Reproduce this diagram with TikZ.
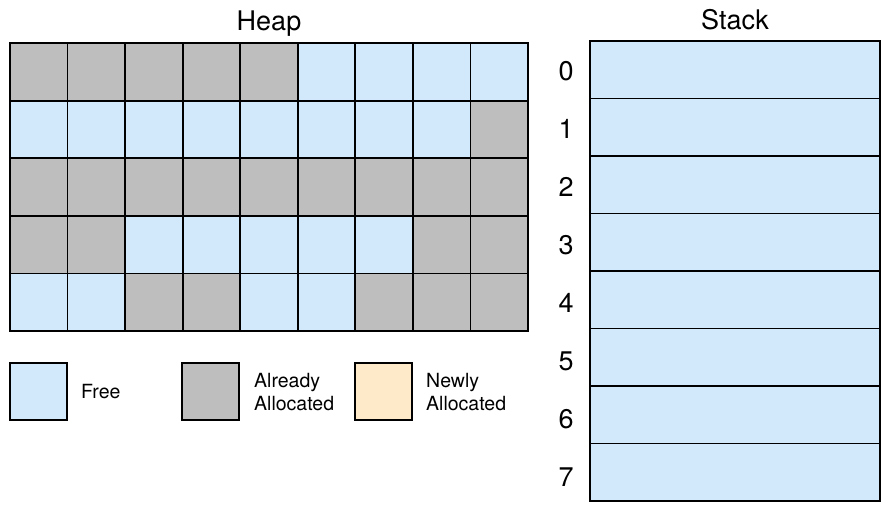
\documentclass[tikz,border=0pt]{standalone}
\usepackage{fontspec}
\setmainfont{TeX Gyre Heros}
\definecolor{freec}{HTML}{D1E9FB}
\definecolor{allocc}{HTML}{BEBEBE}
\definecolor{newc}{HTML}{FEE9C8}
\begin{document}
\begin{tikzpicture}[x=1pt,y=-1pt,
  cell/.style={draw=black,line width=1.8pt,inner sep=0pt,minimum width=57.56pt,minimum height=57.6pt},
  stackcell/.style={draw=black,line width=1.8pt,inner sep=0pt,minimum width=290pt,minimum height=57.5pt,fill=freec},
  title/.style={font=\fontsize{27}{30}\selectfont,inner sep=0pt,anchor=base},
  idx/.style={font=\fontsize{27}{30}\selectfont,inner sep=0pt,anchor=base},
  legtext/.style={font=\fontsize{19.5}{23}\selectfont,inner sep=0pt,anchor=west,align=left}]
\useasboundingbox (0,0) rectangle (890,512);
\fill[white] (0,0) rectangle (890,512);
% Heap grid
\foreach \row/\pat in {0/{1,1,1,1,1,0,0,0,0},1/{0,0,0,0,0,0,0,0,1},2/{1,1,1,1,1,1,1,1,1},3/{1,1,0,0,0,0,0,1,1},4/{0,0,1,1,0,0,1,1,1}}{
  \foreach \v [count=\c from 0] in \pat {
    \ifnum\v=1 \def\cc{allocc}\else\def\cc{freec}\fi
    \node[cell,fill=\cc] (h\row-\c) at ({10+57.56*\c+28.78},{43+57.6*\row+28.8}) {};
  }
}
\node[title] (heap) at (269,30) {Heap};
% Stack
\foreach \i in {0,...,7}{
  \node[stackcell] (s\i) at (735,{41+57.5*\i+28.75}) {};
  \node[idx] (n\i) at (566,{80+58.1*\i}) {\i};
}
\node[title] (stack) at (735,29) {Stack};
% Legend
\node[cell,fill=freec] (lf) at (38.5,391.5) {};
\node[legtext] (tf) at (81,392) {Free};
\node[cell,fill=allocc] (la) at (210.5,391.5) {};
\node[legtext] (ta) at (254,392.5) {Already\\Allocated};
\node[cell,fill=newc] (ln) at (383.5,391.5) {};
\node[legtext] (tn) at (426,392.5) {Newly\\Allocated};
\end{tikzpicture}
\end{document}
